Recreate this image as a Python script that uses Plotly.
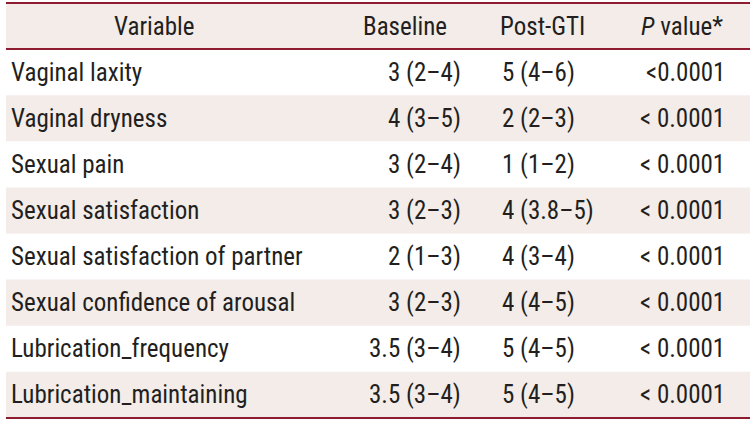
import plotly.graph_objects as go

headers = ["Variable", "Baseline", "Post-GTI", "<i>P</i> value*"]
variables = [
    "Vaginal laxity",
    "Vaginal dryness",
    "Sexual pain",
    "Sexual satisfaction",
    "Sexual satisfaction of partner",
    "Sexual confidence of arousal",
    "Lubrication_frequency",
    "Lubrication_maintaining",
]
baseline = ["3 (2–4)", "4 (3–5)", "3 (2–4)", "3 (2–3)", "2 (1–3)", "3 (2–3)", "3.5 (3–4)", "3.5 (3–4)"]
post_gti = ["5 (4–6)", "2 (2–3)", "1 (1–2)", "4 (3.8–5)", "4 (3–4)", "4 (4–5)", "5 (4–5)", "5 (4–5)"]
p_values = ["<0.0001", "< 0.0001", "< 0.0001", "< 0.0001", "< 0.0001", "< 0.0001", "< 0.0001", "< 0.0001"]

FONT = "Roboto Condensed, DejaVu Sans Condensed, sans-serif"
TXT = "#231f20"
SHADE = "#f3ece9"
RULE = "#8e1b30"
X0, X1 = 6, 750

cols = [
    ((154, "center"), (10, "left")),
    ((405, "center"), (462, "right")),
    ((542, "center"), (501, "left")),
    ((682, "center"), (726, "right")),
]
columns = [variables, baseline, post_gti, p_values]

fig = go.Figure()
fig.add_trace(go.Scatter(x=[X0, X1], y=[0, 8], mode="markers", marker=dict(opacity=0), hoverinfo="skip", showlegend=False))

shapes = []
shade_rows = [0] + [i + 1 for i in range(len(variables)) if i % 2 == 1]
for r in shade_rows:
    shapes.append(dict(type="rect", xref="x", yref="y", x0=X0, x1=X1, y0=r - 0.5, y1=r + 0.5,
                       fillcolor=SHADE, line=dict(width=0), layer="below"))
for yv in [-0.5, 0.5, len(variables) + 0.5]:
    shapes.append(dict(type="line", xref="x", yref="y", x0=X0, x1=X1, y0=yv, y1=yv,
                       line=dict(color=RULE, width=2)))

annotations = []
for ci, ((hx, ha), (cx, ca)) in enumerate(cols):
    annotations.append(dict(x=hx, y=0, xref="x", yref="y", text=headers[ci], showarrow=False,
                            xanchor=ha, yanchor="middle", font=dict(family=FONT, size=25, color=TXT)))
    for ri, val in enumerate(columns[ci]):
        annotations.append(dict(x=cx, y=ri + 1, xref="x", yref="y", text=val, showarrow=False,
                                xanchor=ca, yanchor="middle", borderpad=0,
                                font=dict(family=FONT, size=25, color=TXT)))

unit = 46.1
top = -0.5 - 3 / unit
bottom = top + 423 / unit
fig.update_layout(
    width=755, height=423,
    margin=dict(l=0, r=0, t=0, b=0),
    paper_bgcolor="white", plot_bgcolor="white",
    xaxis=dict(range=[0, 755], visible=False, fixedrange=True),
    yaxis=dict(range=[bottom, top], visible=False, fixedrange=True),
    shapes=shapes,
    annotations=annotations,
)
fig.write_html("out.html", config={"displayModeBar": False},
               post_script="document.body.style.margin='0';")
